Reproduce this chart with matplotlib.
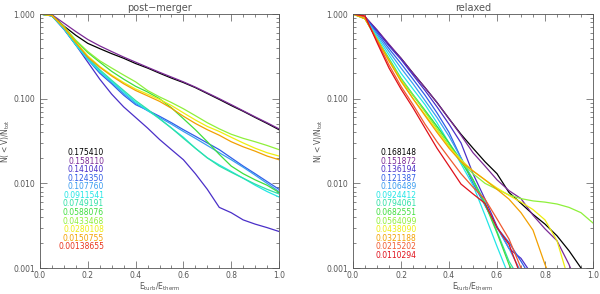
import numpy as np
import matplotlib
matplotlib.use("Agg")
import matplotlib.pyplot as plt
from matplotlib.ticker import FixedLocator, MultipleLocator, FuncFormatter

nan = np.nan
# energy ratio grid
x = np.arange(0, 1.0001, 0.05)

# ---- post-merger panel ----
pm_labels = ['0.175410', '0.158110', '0.141040', '0.124350', '0.107760', '0.0911541',
             '0.0749191', '0.0588076', '0.0433468', '0.0280108', '0.0150755', '0.00138655']
pm_black = [1.0, 0.97, 0.72, 0.56, 0.45, 0.39, 0.34, 0.30, 0.26, 0.23, 0.20, 0.175, 0.155,
            0.135, 0.115, 0.098, 0.083, 0.071, 0.060, 0.051, 0.043]
pm_purple = [1.0, 0.98, 0.78, 0.62, 0.50, 0.42, 0.36, 0.31, 0.27, 0.235, 0.205, 0.18, 0.158,
             0.137, 0.117, 0.10, 0.085, 0.072, 0.061, 0.052, 0.044]
pm_violet = [1.0, 0.95, 0.66, 0.43, 0.27, 0.17, 0.113, 0.08, 0.06, 0.045, 0.033, 0.025, 0.019,
             0.013, 0.0085, 0.0052, 0.0045, 0.0037, 0.0033, 0.0030, 0.0027]
pm_blue = [1.0, 0.95, 0.67, 0.43, 0.29, 0.20, 0.15, 0.11, 0.085, 0.073, 0.062, 0.052, 0.043,
           0.036, 0.030, 0.025, 0.020, 0.016, 0.013, 0.0105, 0.0085]
pm_lblue = [1.0, 0.95, 0.67, 0.44, 0.30, 0.21, 0.155, 0.115, 0.088, 0.072, 0.060, 0.050, 0.041,
            0.034, 0.028, 0.023, 0.019, 0.0155, 0.0125, 0.0100, 0.0080]
pm_cyan = [1.0, 0.95, 0.67, 0.43, 0.29, 0.21, 0.16, 0.12, 0.091, 0.073, 0.058, 0.045, 0.035,
           0.026, 0.020, 0.0165, 0.0138, 0.0115, 0.0095, 0.0080, 0.0069]
pm_teal = [1.0, 0.95, 0.68, 0.45, 0.31, 0.22, 0.165, 0.125, 0.095, 0.075, 0.058, 0.045, 0.034,
           0.026, 0.020, 0.016, 0.0135, 0.0115, 0.0098, 0.0085, 0.0075]
pm_green = [1.0, 0.96, 0.71, 0.48, 0.35, 0.27, 0.21, 0.17, 0.14, 0.12, 0.10, 0.078, 0.058,
            0.043, 0.031, 0.022, 0.016, 0.013, 0.011, 0.0095, 0.0078]
pm_lgreen = [1.0, 0.96, 0.71, 0.49, 0.36, 0.28, 0.23, 0.19, 0.158, 0.125, 0.105, 0.09, 0.076,
             0.063, 0.052, 0.044, 0.038, 0.034, 0.031, 0.028, 0.025]
pm_yellow = [1.0, 0.96, 0.70, 0.46, 0.32, 0.24, 0.19, 0.155, 0.13, 0.113, 0.098, 0.083, 0.068,
             0.056, 0.047, 0.041, 0.035, 0.030, 0.026, 0.023, 0.021]
pm_orange = [1.0, 0.96, 0.70, 0.46, 0.31, 0.235, 0.185, 0.15, 0.125, 0.108, 0.093, 0.077, 0.062,
             0.051, 0.043, 0.037, 0.031, 0.027, 0.024, 0.021, 0.019]
pm_curves = [pm_black, pm_purple, pm_violet, pm_blue, pm_lblue, pm_cyan, pm_teal,
             pm_green, pm_lgreen, pm_yellow, pm_orange]

# ---- relaxed panel ----
rx_labels = ['0.168148', '0.151872', '0.136194', '0.121387', '0.106489', '0.0924412',
             '0.0794061', '0.0682551', '0.0564099', '0.0438090', '0.0321188', '0.0215202',
             '0.0110294']
rx_black = [1.0, 0.92, 0.64, 0.43, 0.30, 0.20, 0.135, 0.090, 0.058, 0.038, 0.026, 0.018, 0.013,
            0.0078, 0.0058, 0.0043, 0.0033, 0.0024, 0.0016, 0.0010, 0.0006]
rx_purple = [1.0, 0.93, 0.65, 0.44, 0.30, 0.20, 0.135, 0.090, 0.058, 0.037, 0.023, 0.016, 0.011,
             0.0082, 0.0066, 0.0042, 0.0029, 0.0021, 0.0011, 0.0005, nan]
rx_violet = [1.0, 0.92, 0.63, 0.42, 0.29, 0.19, 0.125, 0.080, 0.050, 0.030, 0.013, 0.0065,
             0.0031, 0.0017, 0.0013, 0.0008, nan, nan, nan, nan, nan]
rx_blue = [1.0, 0.91, 0.60, 0.39, 0.26, 0.17, 0.11, 0.068, 0.040, 0.020, 0.010, 0.0055, 0.0030,
           0.0020, 0.0012, 0.0007, nan, nan, nan, nan, nan]
rx_lblue = [1.0, 0.90, 0.57, 0.36, 0.23, 0.15, 0.095, 0.060, 0.036, 0.020, 0.011, 0.0055, 0.0030,
            0.0017, 0.0009, nan, nan, nan, nan, nan, nan]
rx_cyan = [1.0, 0.89, 0.54, 0.33, 0.20, 0.13, 0.085, 0.052, 0.030, 0.017, 0.0095, 0.0042,
           0.0018, 0.0008, nan, nan, nan, nan, nan, nan, nan]
rx_teal = [1.0, 0.88, 0.51, 0.30, 0.175, 0.112, 0.073, 0.047, 0.030, 0.019, 0.011, 0.0060,
           0.0027, 0.0012, 0.0007, nan, nan, nan, nan, nan, nan]
rx_green = [1.0, 0.88, 0.50, 0.29, 0.17, 0.11, 0.072, 0.047, 0.030, 0.018, 0.011, 0.0057, 0.0026,
            0.0011, 0.0006, nan, nan, nan, nan, nan, nan]
rx_lgreen = [1.0, 0.88, 0.50, 0.29, 0.17, 0.11, 0.070, 0.044, 0.028, 0.018, 0.013, 0.010,
             0.0085, 0.0073, 0.0066, 0.0062, 0.0060, 0.0057, 0.0052, 0.0045, 0.0034]
rx_yellow = [1.0, 0.88, 0.50, 0.28, 0.165, 0.10, 0.065, 0.042, 0.027, 0.019, 0.014, 0.011,
             0.0088, 0.0072, 0.0060, 0.0049, 0.0037, 0.0021, 0.0007, nan, nan]
rx_orange = [1.0, 0.88, 0.50, 0.28, 0.16, 0.10, 0.063, 0.040, 0.026, 0.018, 0.014, 0.011,
             0.0085, 0.0065, 0.0045, 0.0028, 0.0011, 0.0005, nan, nan, nan]
rx_ored = [1.0, 0.93, 0.48, 0.25, 0.14, 0.085, 0.050, 0.031, 0.020, 0.013, 0.009, 0.0065,
           0.0038, 0.0022, 0.0010, 0.0006, nan, nan, nan, nan, nan]
rx_red = [1.0, 0.95, 0.46, 0.23, 0.13, 0.078, 0.045, 0.026, 0.016, 0.0098, 0.0075, 0.0058,
          0.0030, 0.0019, 0.0008, nan, nan, nan, nan, nan, nan]
rx_curves = [rx_black, rx_purple, rx_violet, rx_blue, rx_lblue, rx_cyan, rx_teal, rx_green,
             rx_lgreen, rx_yellow, rx_orange, rx_ored, rx_red]

pm_colors = ['#000000', '#7b2a96', '#4a2fc8', '#2f5ee8', '#3a9cf0', '#22e6e6', '#2ee0a6',
             '#3ede3e', '#8ef03a', '#eeee10', '#f2a000', '#e8341c']
rx_colors = ['#000000', '#7b2a96', '#4a2fc8', '#2f5ee8', '#3a9cf0', '#22e6e6', '#2ee0a6',
             '#3ede3e', '#8ef03a', '#eeee10', '#f2a000', '#f05a30', '#e0101a']

gray = '#555555'
fig = plt.figure(figsize=(6.0, 2.94), dpi=100)
ax1 = fig.add_axes([40 / 600, 1 - 268 / 294, 239 / 600, 254 / 294])
ax2 = fig.add_axes([353 / 600, 1 - 268 / 294, 240 / 600, 254 / 294])


def style(ax, title):
    ax.set_yscale('log')
    ax.set_xlim(0, 1)
    ax.set_ylim(0.001, 1.0)
    ax.xaxis.set_major_locator(MultipleLocator(0.2))
    ax.xaxis.set_minor_locator(MultipleLocator(0.05))
    ax.yaxis.set_major_locator(FixedLocator([0.001, 0.01, 0.1, 1.0]))
    ax.yaxis.set_major_formatter(FuncFormatter(lambda v, p: '%.3f' % v))
    ax.xaxis.set_major_formatter(FuncFormatter(lambda v, p: '%.1f' % v))
    ax.tick_params(which='both', direction='in', top=True, right=True, colors=gray,
                   labelsize=5.5, labelcolor=gray, width=0.5)
    ax.tick_params(which='major', length=5)
    ax.tick_params(which='minor', length=2.5)
    ax.tick_params(axis='x', pad=2.5)
    for s in ax.spines.values():
        s.set_color(gray)
        s.set_linewidth(0.6)
    ax.set_title(title, fontsize=7, color=gray, pad=2)
    ax.set_xlabel(r'$\mathregular{E_{turb}/E_{therm}}$', fontsize=5.5, color=gray, labelpad=0)
    ax.set_ylabel(r'$\mathregular{N(<V)/N_{tot}}$', fontsize=5.5, color=gray, labelpad=1)


for ax, curves, colors, labels, title, lx in [
        (ax1, pm_curves, pm_colors, pm_labels, 'post\u2212merger', 0.268),
        (ax2, rx_curves, rx_colors, rx_labels, 'relaxed', 0.265)]:
    style(ax, title)
    for y, c in zip(curves, colors):
        ax.plot(x, y, color=c, lw=0.9)
    for i, (lab, c) in enumerate(zip(labels, colors)):
        ax.text(lx, 0.453 - i * 0.0335, lab, transform=ax.transAxes, color=c,
                fontsize=5.5, ha='right', va='center')

fig.savefig('out.png', dpi=100, facecolor='white')
